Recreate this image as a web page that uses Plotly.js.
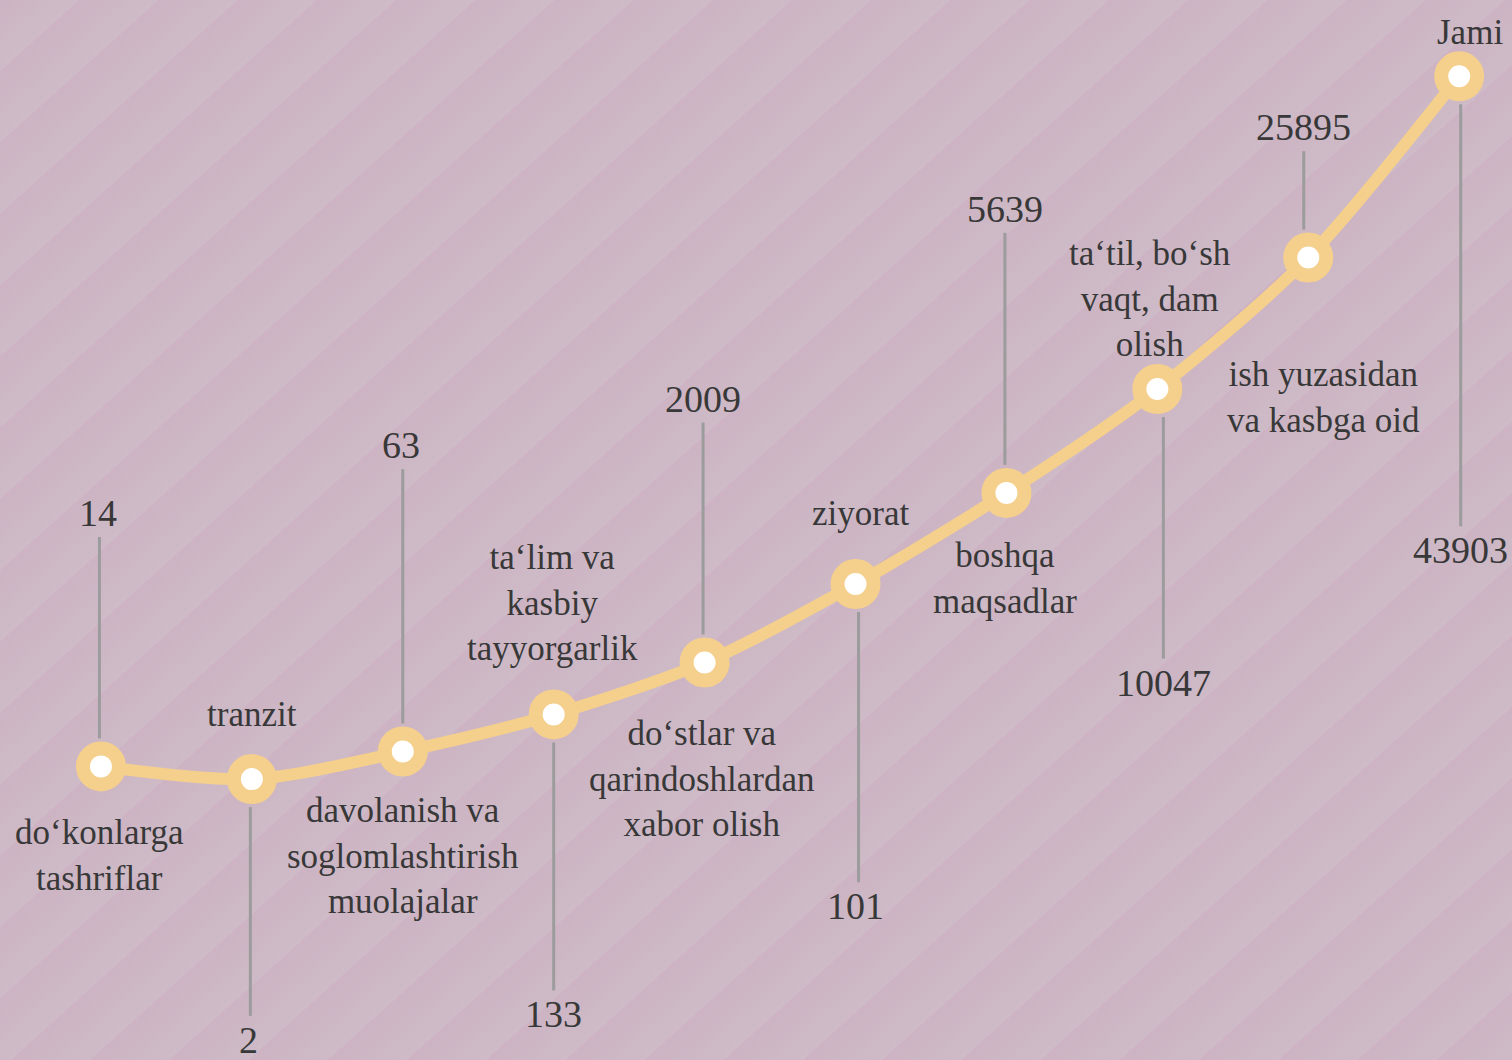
<!DOCTYPE html>
<html>
<head>
<meta charset="utf-8">
<script src="https://cdn.plot.ly/plotly-3.0.1.min.js"></script>
<style>
  html, body { margin: 0; padding: 0; }
  body {
    width: 1512px; height: 1060px; overflow: hidden;
    background: repeating-linear-gradient(138deg,
      #cdb3c3 0px, #cdb7c5 26px, #cebbc7 53px);
  }
  #chart { width: 1512px; height: 1060px; }
</style>
</head>
<body>
<div id="chart"></div>
<script>
// ---- data ----
const categories = [
  "do‘konlarga<br>tashriflar",
  "tranzit",
  "davolanish va<br>soglomlashtirish<br>muolajalar",
  "ta‘lim va<br>kasbiy<br>tayyorgarlik",
  "do‘stlar va<br>qarindoshlardan<br>xabor olish",
  "ziyorat",
  "boshqa<br>maqsadlar",
  "ta‘til, bo‘sh<br>vaqt, dam<br>olish",
  "ish yuzasidan<br>va kasbga oid",
  "Jami"
];
const values = [14, 2, 63, 133, 2009, 101, 5639, 10047, 25895, 43903];
// height of each node on the decorative curve (0-100 scale)
const curveLevel = [27.7, 26.5, 29.1, 32.6, 37.5, 44.9, 53.5, 63.3, 75.7, 92.8];

// ---- layout helpers (label placement, not data) ----
const valueLabelY = [51.6, 1.9, 58.0, 4.3, 62.4, 14.5, 80.3, 35.6, 88.0, 48.1];
const valueDx     = [-0.02, -0.02, -0.01, 0, -0.01, 0.0, -0.01, 0.04, -0.03, 0.01];
const stemDx      = [-0.01, -0.01, 0, 0, -0.01, 0.02, -0.01, 0.04, -0.03, 0.01];
const catLabelY   = [19.3, 32.6, 19.2, 43.1, 26.5, 51.6, 45.4, 71.8, 62.5, 96.9];
const catDx       = [-0.01, 0.0, 0, -0.01, -0.02, 0.03, -0.01, -0.05, 0.1, 0.07];

const orange = '#f5cf8c';
const textColor = '#383838';
const font = 'Liberation Serif, Times New Roman, serif';
const pxPerUnit = 1060 / 100;
const gapPoint = 28 / pxPerUnit;
const gapLabel = 24 / pxPerUnit;

const xs = categories.map((c, i) => i);

const shapes = [];
const annotations = [];
values.forEach((v, i) => {
  const dir = valueLabelY[i] > curveLevel[i] ? 1 : -1;
  shapes.push({
    type: 'line', xref: 'x', yref: 'y', layer: 'below',
    x0: xs[i] + stemDx[i], x1: xs[i] + stemDx[i],
    y0: curveLevel[i] + dir * gapPoint,
    y1: valueLabelY[i] - dir * gapLabel,
    line: { color: '#9c9c9c', width: 3 }
  });
  annotations.push({
    x: xs[i] + valueDx[i], y: valueLabelY[i], xref: 'x', yref: 'y',
    text: String(v), showarrow: false, xanchor: 'center', yanchor: 'middle',
    font: { family: font, size: 38, color: textColor }
  });
  annotations.push({
    x: xs[i] + catDx[i], y: catLabelY[i], xref: 'x', yref: 'y',
    text: categories[i], showarrow: false, xanchor: 'center', yanchor: 'middle',
    align: 'center',
    font: { family: font, size: 35, color: textColor }
  });
});

const trace = {
  x: xs, y: curveLevel, type: 'scatter', mode: 'lines+markers',
  line: { color: orange, width: 12, shape: 'spline', smoothing: 0.8 },
  marker: { size: 36, color: '#ffffff', line: { color: orange, width: 14 } },
  hoverinfo: 'skip', cliponaxis: false
};

const layout = {
  width: 1512, height: 1060,
  margin: { l: 0, r: 0, t: 0, b: 0 },
  paper_bgcolor: 'rgba(0,0,0,0)', plot_bgcolor: 'rgba(0,0,0,0)',
  showlegend: false,
  xaxis: { range: [-0.669, 9.35], visible: false, fixedrange: true },
  yaxis: { range: [0, 100], visible: false, fixedrange: true },
  shapes: shapes,
  annotations: annotations
};

Plotly.newPlot('chart', [trace], layout, { displayModeBar: false, staticPlot: true });
</script>
</body>
</html>
